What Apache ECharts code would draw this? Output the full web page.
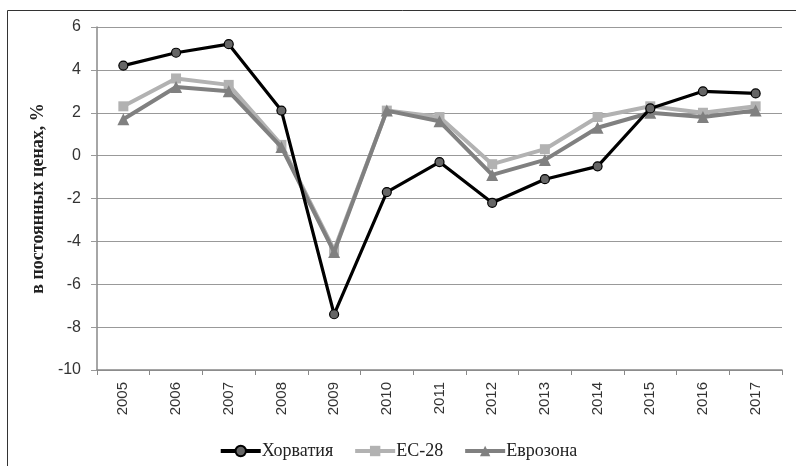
<!DOCTYPE html>
<html>
<head>
<meta charset="utf-8">
<script src="https://cdn.jsdelivr.net/npm/echarts@6/dist/echarts.min.js"></script>
<style>
  html, body { margin: 0; padding: 0; background: #fff; }
  #main { width: 796px; height: 466px; }
</style>
</head>
<body>
<div id="main"></div>
<script>
var years = ['2005', '2006', '2007', '2008', '2009', '2010', '2011', '2012', '2013', '2014', '2015', '2016', '2017'];
var croatia = [4.2, 4.8, 5.2, 2.1, -7.4, -1.7, -0.3, -2.2, -1.1, -0.5, 2.2, 3.0, 2.9];
var eu28 = [2.3, 3.6, 3.3, 0.5, -4.4, 2.1, 1.8, -0.4, 0.3, 1.8, 2.3, 2.0, 2.3];
var eurozone = [1.7, 3.2, 3.0, 0.4, -4.5, 2.1, 1.6, -0.9, -0.2, 1.3, 2.0, 1.8, 2.1];
var seriesNames = ['Хорватия', 'ЕС-28', 'Еврозона'];

var myChart = echarts.init(document.getElementById('main'));

var option = {
    animation: false,
    graphic: [
        {
            type: 'rect',
            shape: { x: 7.5, y: 10.5, width: 820, height: 480 },
            style: { fill: 'none', stroke: '#333', lineWidth: 1 },
            silent: true
        }
    ],
    grid: { left: 97, right: 14, top: 27, bottom: 96 },
    legend: {
        top: 437,
        left: 'center',
        itemWidth: 40,
        itemHeight: 13,
        itemGap: 20,
        lineStyle: { width: 4 },
        textStyle: { fontFamily: 'Liberation Serif', fontSize: 18, color: '#222', padding: [0, 0, 0, -4] },
        data: seriesNames
    },
    xAxis: [
        {
            type: 'category',
            data: years,
            position: 'bottom',
            axisLine: { show: false },
            axisTick: { show: false },
            axisLabel: {
                rotate: 90,
                margin: 12,
                fontFamily: 'Liberation Sans',
                fontSize: 15,
                color: '#333'
            }
        },
        {
            type: 'category',
            data: years,
            position: 'bottom',
            axisLine: { onZero: true, lineStyle: { color: '#888', width: 1.5 } },
            axisTick: { show: true, length: 5, lineStyle: { color: '#888' } },
            axisLabel: { show: false }
        }
    ],
    yAxis: {
        type: 'value',
        min: -10,
        max: 6,
        interval: 2,
        name: 'в постоянных ценах, %',
        nameLocation: 'middle',
        nameGap: 47,
        nameTextStyle: { fontFamily: 'Liberation Serif', fontSize: 18, fontWeight: 'bold', color: '#222' },
        axisLine: { show: true, lineStyle: { color: '#888', width: 1.5 } },
        axisTick: { show: true, length: 6, lineStyle: { color: '#999' } },
        axisLabel: { margin: 16, fontFamily: 'Liberation Sans', fontSize: 16, color: '#333' },
        splitLine: { lineStyle: { color: '#999', width: 1.2 } }
    },
    series: [
        {
            name: seriesNames[0],
            type: 'line',
            data: croatia,
            symbol: 'circle',
            symbolSize: 9,
            lineStyle: { color: '#000', width: 3.2 },
            itemStyle: { color: '#666', borderColor: '#000', borderWidth: 1.2 },
            z: 4
        },
        {
            name: seriesNames[1],
            type: 'line',
            data: eu28,
            symbol: 'rect',
            symbolSize: 10,
            lineStyle: { color: '#b2b2b2', width: 4 },
            itemStyle: { color: '#b2b2b2' },
            z: 2
        },
        {
            name: seriesNames[2],
            type: 'line',
            data: eurozone,
            symbol: 'triangle',
            symbolSize: 12,
            lineStyle: { color: '#808080', width: 4 },
            itemStyle: { color: '#808080' },
            z: 3
        }
    ]
};

myChart.setOption(option);
</script>
</body>
</html>
